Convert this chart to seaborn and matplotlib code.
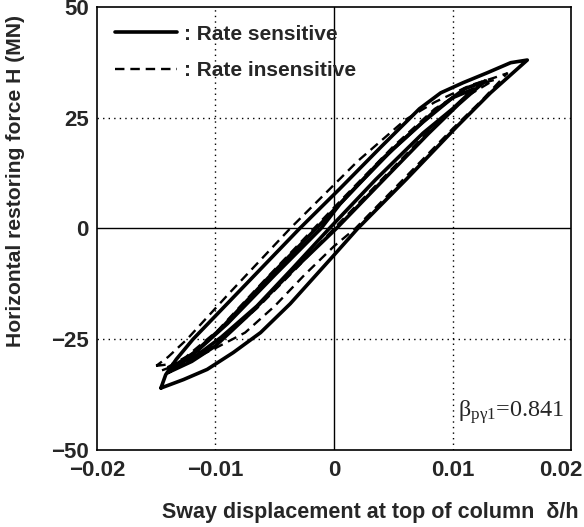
import numpy as np
import pandas as pd
import matplotlib
matplotlib.use("Agg")
import matplotlib.pyplot as plt
import seaborn as sns
from matplotlib.lines import Line2D
from matplotlib.transforms import ScaledTranslation

sns.set_style("white")
plt.rcParams['font.family'] = ['Liberation Sans', 'DejaVu Sans']

# --- data (delta/h, H in MN) ---
# rate sensitive, outer cycle
sens_outer_x = [-0.0146, -0.0127, -0.0107, -0.0085, -0.0062, -0.0037, -0.0001, 0.0020, 0.0061, 0.0104,
                0.0132, 0.0163, 0.0149, 0.0129, 0.0109, 0.0090, 0.0072, 0.0040, 0.0005, -0.0029,
                -0.0074, -0.0119, -0.0133, -0.0142, -0.0146]
sens_outer_y = [-36.0, -34.1, -31.8, -28.0, -23.5, -17.0, -6.3, 0.0, 11.1, 23.1,
                30.6, 38.0, 37.4, 35.1, 32.9, 30.6, 27.0, 18.5, 9.0, 0.0,
                -12.5, -25.0, -29.5, -33.0, -36.0]
# rate sensitive, inner cycles
sens_in1_x = [-0.0140, -0.0120, -0.0100, -0.0070, -0.0035, 0.0002, 0.0040, 0.0080, 0.0105, 0.0122, 0.0128,
              0.0110, 0.0085, 0.0050, 0.0010, -0.0015, -0.0055, -0.0095, -0.0120, -0.0140]
sens_in1_y = [-32.5, -30.0, -26.5, -19.0, -9.5, 0.0, 10.5, 21.5, 28.0, 32.0, 33.3,
              31.5, 26.5, 18.0, 7.0, 0.0, -11.0, -22.5, -28.5, -32.5]
sens_in2_x = [-0.0135, -0.0115, -0.0095, -0.0065, -0.0035, -0.0004, 0.0035, 0.0075, 0.0100, 0.0118,
              0.0100, 0.0075, 0.0040, 0.0005, -0.0011, -0.0050, -0.0090, -0.0115, -0.0135]
sens_in2_y = [-31.0, -28.5, -24.5, -17.5, -9.0, 0.0, 11.0, 21.5, 27.0, 31.5,
              29.5, 24.0, 15.5, 5.5, 0.0, -10.5, -21.5, -27.5, -31.0]

# rate insensitive, outer cycle
insens_outer_x = [-0.0150, -0.0125, -0.0100, -0.0075, -0.0050, -0.0025, 0.0000, 0.0018, 0.0060, 0.0100,
                  0.0125, 0.0146, 0.0135, 0.0115, 0.0085, 0.0060, 0.0020, -0.0037, -0.0088, -0.0124,
                  -0.0140, -0.0150]
insens_outer_y = [-31.0, -30.2, -27.0, -23.5, -17.5, -10.5, -4.0, 0.0, 11.5, 22.5,
                  29.0, 35.0, 34.0, 32.3, 28.5, 24.5, 15.2, 0.0, -14.5, -25.0,
                  -29.0, -31.0]
# rate insensitive, inner cycle
insens_in_x = [-0.0145, -0.0120, -0.0095, -0.0065, -0.0030, 0.0000, 0.0040, 0.0080, 0.0110, 0.0135,
               0.0115, 0.0085, 0.0050, 0.0010, -0.0017, -0.0058, -0.0098, -0.0125, -0.0145]
insens_in_y = [-32.0, -29.5, -25.0, -18.0, -8.5, 0.0, 11.0, 22.0, 29.5, 33.5,
               32.0, 27.0, 18.5, 7.5, 0.0, -11.5, -23.0, -29.0, -32.0]

xticks = [-0.02, -0.01, 0, 0.01, 0.02]
xticklabels = ['\u22120.02', '\u22120.01', '0', '0.01', '0.02']
yticks = [-50, -25, 0, 25, 50]
yticklabels = ['\u221250', '\u221225', '0', '25', '50']

fig = plt.figure(figsize=(5.84, 5.27), dpi=100)
ax = fig.add_axes([0.166, 0.146, 0.812, 0.841])

# reference lines
for v in [-0.01, 0.01]:
    ax.axvline(v, color='black', lw=1.0, ls=(0, (1, 3)))
for v in [-25, 25]:
    ax.axhline(v, color='black', lw=1.0, ls=(0, (1, 3)))
ax.axvline(0, color='black', lw=1.0)
ax.axhline(0, color='black', lw=1.0)

for xs, ys in [(sens_outer_x, sens_outer_y), (sens_in1_x, sens_in1_y), (sens_in2_x, sens_in2_y)]:
    sns.lineplot(x=xs, y=ys, sort=False, estimator=None, color='black', lw=2.6, ax=ax)
for xs, ys in [(insens_outer_x, insens_outer_y), (insens_in_x, insens_in_y)]:
    sns.lineplot(x=xs, y=ys, sort=False, estimator=None, color='black', lw=1.7,
                 linestyle=(0, (4, 2.5)), ax=ax)

ax.set_xlim(-0.02, 0.02)
ax.set_ylim(-50, 50)
ax.set_xticks(xticks)
ax.set_xticklabels(xticklabels)
ax.set_yticks(yticks)
ax.set_yticklabels(yticklabels)
ax.tick_params(length=0)
ax.tick_params(axis='x', pad=7)
ax.tick_params(axis='y', pad=6)
for lab in ax.get_xticklabels() + ax.get_yticklabels():
    lab.set_fontweight('bold')
    lab.set_fontsize(16)
last = ax.get_xticklabels()[-1]
last.set_horizontalalignment('right')
last.set_transform(last.get_transform() + ScaledTranslation(0.11, 0, fig.dpi_scale_trans))
for s in ax.spines.values():
    s.set_color('black')
    s.set_linewidth(1.2)

ax.set_xlabel('Sway displacement at top of column  \u03b4/h', fontsize=15.5, fontweight='bold')
ax.xaxis.set_label_coords(1.015, -0.118)
ax.xaxis.label.set_horizontalalignment('right')
ax.set_ylabel('Horizontal restoring force H (MN)', fontsize=15.2, fontweight='bold')
ax.yaxis.set_label_coords(-0.152, 0.607)

handles = [Line2D([], [], color='black', lw=2.6),
           Line2D([], [], color='black', lw=1.7, linestyle=(0, (4, 2.5)))]
ax.legend(handles, [': Rate sensitive', ': Rate insensitive'], loc='upper left',
          frameon=False, handlelength=3.0, handletextpad=0.35,
          borderaxespad=0.45, labelspacing=0.85,
          prop={'size': 15, 'weight': 'bold'})

ax.text(0.985, 0.055, r'$\mathregular{\beta_{p\gamma 1}}$=0.841', transform=ax.transAxes,
        ha='right', va='bottom', fontsize=17.5, family='Liberation Serif')

fig.savefig('out.png', dpi=100)
